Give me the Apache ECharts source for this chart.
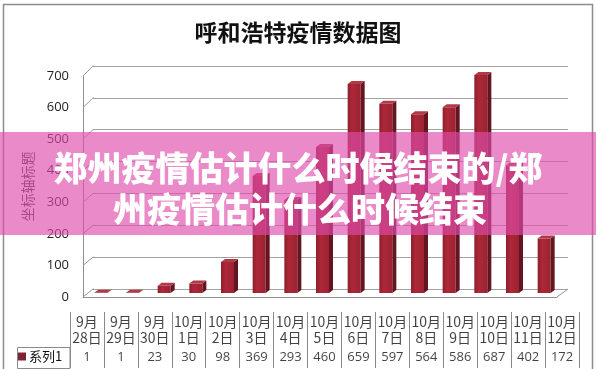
<!DOCTYPE html>
<html>
<head>
<meta charset="utf-8">
<script src="https://cdn.jsdelivr.net/npm/echarts@6/dist/echarts.min.js"></script>
<style>html,body{margin:0;padding:0;background:#fff}#c{width:596px;height:369px}</style>
</head>
<body>
<div id="c"></div>
<script>
const chartTitle = '呼和浩特疫情数据图';
const seriesName = '系列1';
const axisName = '坐标轴标题';
const categories = ['9月\n28日','9月\n29日','9月\n30日','10月\n1日','10月\n2日','10月\n3日','10月\n4日','10月\n5日','10月\n6日','10月\n7日','10月\n8日','10月\n9日','10月\n10日','10月\n11日','10月\n12日'];
const values = [1, 1, 23, 30, 98, 369, 293, 460, 659, 597, 564, 586, 687, 402, 172];
const yMin = 0, yMax = 700, yStep = 100;
const overlayLines = ['郑州疫情估计什么时候结束的/郑', '州疫情估计什么时候结束'];

const FONT = '"Noto Sans CJK SC", "Open Sans", sans-serif';
const idx = categories.map((c, i) => i);

const chart = echarts.init(document.getElementById('c'), null, {renderer: 'canvas'});

const baseGraphics = [
  {id: 'frame', type: 'rect', z: 0, shape: {x: 3.5, y: 4.5, width: 589, height: 380}, style: {fill: '#fff', stroke: '#8c8c8c', lineWidth: 1.5}},
  {id: 'legendCell', type: 'rect', z: 5, shape: {x: 17.5, y: 347.5, width: 52.5, height: 21}, style: {fill: 'none', stroke: '#8a8a8a', lineWidth: 1}},
];
const overlayGraphics = [
  {id: 'band', type: 'rect', z: 100, shape: {x: 0, y: 132, width: 596, height: 103}, style: {fill: 'rgba(222,76,172,0.65)'}},
  {id: 'ot1', type: 'text', z: 101, x: 298, y: 168, style: {text: overlayLines[0], fill: '#fff', font: '900 34px ' + FONT, textAlign: 'center', textVerticalAlign: 'middle', shadowColor: 'rgba(0,0,0,0.25)', shadowBlur: 3}},
  {id: 'ot2', type: 'text', z: 101, x: 300, y: 209, style: {text: overlayLines[1], fill: '#fff', font: '900 34px ' + FONT, textAlign: 'center', textVerticalAlign: 'middle', shadowColor: 'rgba(0,0,0,0.25)', shadowBlur: 3}},
];

const option = {
  animation: false,
  backgroundColor: '#fff',
  title: {text: chartTitle, left: 'center', top: 16, textStyle: {fontFamily: FONT, fontSize: 23, fontWeight: 'bold', color: '#111'}},
  legend: {data: [seriesName], left: 18, top: 350, padding: [0, 0, 0, 0], icon: 'rect', itemWidth: 8, itemHeight: 8, itemGap: 2, textStyle: {fontFamily: FONT, fontSize: 13, color: '#111', padding: [0, 0, 0, -2]}, selectedMode: false},
  grid: [
    {left: 93, right: 28, top: 66, bottom: 80},            // back wall
    {left: 83, right: 39, top: 76, bottom: 72},            // front axis
    {left: 87, right: 34, top: 71, bottom: 76},            // bars
    {left: 70, right: 17, top: 312, height: 35, show: true, borderColor: '#8a8a8a', borderWidth: 1}, // header row
    {left: 70, right: 17, top: 347, height: 21, show: true, borderColor: '#8a8a8a', borderWidth: 1}  // value row
  ],
  xAxis: [
    {gridIndex: 0, type: 'category', data: idx, show: false},
    {gridIndex: 1, type: 'category', data: idx, axisLine: {show: true, lineStyle: {color: '#8f8f8f'}}, axisTick: {show: false}, axisLabel: {show: false}},
    {gridIndex: 2, type: 'category', data: idx, show: false},
    {gridIndex: 3, type: 'category', data: idx, axisLine: {show: false}, axisTick: {show: false}, axisLabel: {show: false}, splitLine: {show: true, interval: 0, lineStyle: {color: '#8a8a8a'}}},
    {gridIndex: 4, type: 'category', data: idx, axisLine: {show: false}, axisTick: {show: false}, axisLabel: {show: false}, splitLine: {show: true, interval: 0, lineStyle: {color: '#8a8a8a'}}}
  ],
  yAxis: [
    {gridIndex: 0, type: 'value', min: yMin, max: yMax, interval: yStep, axisLine: {show: false}, axisTick: {show: false}, axisLabel: {show: false}, splitLine: {show: true, lineStyle: {color: '#a3a3a3'}}},
    {gridIndex: 1, type: 'value', min: yMin, max: yMax, interval: yStep, axisLine: {show: true, lineStyle: {color: '#8f8f8f'}}, axisTick: {show: false}, splitLine: {show: false},
     axisLabel: {fontFamily: '"Open Sans", sans-serif', fontSize: 13, color: '#222', margin: 14},
     name: axisName, nameLocation: 'middle', nameGap: 48, nameRotate: 90, nameTextStyle: {fontFamily: FONT, fontSize: 14, color: '#444'}},
    {gridIndex: 2, type: 'value', min: yMin, max: yMax, show: false},
    {gridIndex: 3, type: 'value', min: 0, max: 1, show: false},
    {gridIndex: 4, type: 'value', min: 0, max: 1, show: false}
  ],
  series: [
    {
      name: seriesName, type: 'custom', xAxisIndex: 2, yAxisIndex: 2, z: 10,
      itemStyle: {color: '#7d2535'},
      data: values.map((v, i) => [i, v]),
      renderItem: function (params, api) {
        const i = api.value(0), v = api.value(1);
        const base = api.coord([i, 0]);
        const top = api.coord([i, v]);
        const w = 13, dx = 4, dy = 3;
        const x0 = base[0] - w / 2 - 2;
        const yt = top[1], yb = base[1];
        return {
          type: 'group',
          children: [
            {type: 'rect', shape: {x: x0, y: yt, width: w, height: Math.max(0, yb - yt)},
             style: {fill: new echarts.graphic.LinearGradient(0, 0, 1, 0, [
               {offset: 0, color: '#8e1e2d'}, {offset: 0.35, color: '#ad2838'}, {offset: 1, color: '#9c2232'}])}},
            {type: 'polygon', shape: {points: [[x0 + w, yt], [x0 + w + dx, yt - dy], [x0 + w + dx, yb - dy], [x0 + w, yb]]},
             style: {fill: '#651520'}},
            {type: 'polygon', shape: {points: [[x0, yt], [x0 + dx, yt - dy], [x0 + w + dx, yt - dy], [x0 + w, yt]]},
             style: {fill: '#b03a48'}}
          ]
        };
      }
    },
    {
      type: 'scatter', xAxisIndex: 3, yAxisIndex: 3, symbolSize: 0, silent: true,
      data: categories.map((c, i) => [i, 0.5]),
      label: {show: true, position: 'inside', formatter: p => categories[p.dataIndex], fontFamily: FONT, fontSize: 14, lineHeight: 16, color: '#111'}
    },
    {
      type: 'scatter', xAxisIndex: 4, yAxisIndex: 4, symbolSize: 0, silent: true,
      data: values.map((v, i) => [i, 0.5]),
      label: {show: true, position: 'inside', formatter: p => String(values[p.dataIndex]), fontFamily: '"Open Sans", sans-serif', fontSize: 13, color: '#111'}
    }
  ],
  graphic: baseGraphics.concat(overlayGraphics)
};
chart.setOption(option);

// 3D wall/floor edges, placed from the axes' own scales
const ticks = [];
for (let t = yMin; t <= yMax; t += yStep) ticks.push(t);
const backLeft = 93, frontLeft = 83, backRight = 568, frontRight = 557;
const edges = ticks.map((t, k) => {
  const yb = chart.convertToPixel({yAxisIndex: 0}, t);
  const yf = chart.convertToPixel({yAxisIndex: 1}, t);
  return {id: 'slant' + k, type: 'polyline', z: 3, shape: {points: [[frontLeft, yf], [backLeft, yb], [backLeft + 1, yb]]}, style: {stroke: '#9a9a9a', lineWidth: 1, fill: 'none'}};
});
const yb0 = chart.convertToPixel({yAxisIndex: 0}, yMin);
const yf0 = chart.convertToPixel({yAxisIndex: 1}, yMin);
edges.push({id: 'floorR', type: 'line', z: 3, shape: {x1: frontRight, y1: yf0, x2: backRight, y2: yb0}, style: {stroke: '#9a9a9a', lineWidth: 1}});
chart.setOption({graphic: baseGraphics.concat(edges, overlayGraphics)});
</script>
</body>
</html>
